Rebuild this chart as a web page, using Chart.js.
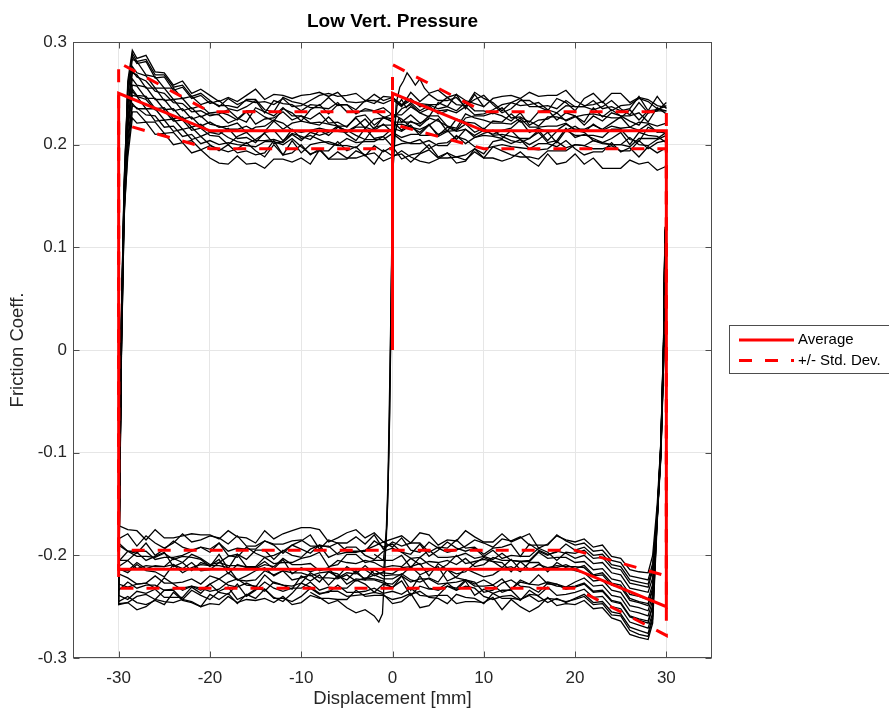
<!DOCTYPE html>
<html>
<head>
<meta charset="utf-8">
<title>Low Vert. Pressure</title>
<script src="https://cdn.jsdelivr.net/npm/chart.js@4.4.1/dist/chart.umd.min.js"></script>
<style>
  html, body { margin: 0; padding: 0; background: #fff; }
  #wrap { width: 889px; height: 711px; }
</style>
</head>
<body>
<div id="wrap"><canvas id="friction" width="889" height="711"></canvas></div>
<script>
const xTicks = [-30, -20, -10, 0, 10, 20, 30];
const yTicks = [-0.3, -0.2, -0.1, 0, 0.1, 0.2, 0.3];

// fitted average loop and +/- one std. dev. (friction coeff.)
const fitX = [0, 0, 10, 30, 30, 20, -30, -30, -20, 0];
const avgY = [0, 0.25, 0.2135, 0.2135, -0.25, -0.2135, -0.2135, 0.25, 0.2135, 0.2135];
const stdHiY = [0, 0.278, 0.232, 0.232, -0.22, -0.195, -0.195, 0.28, 0.232, 0.232];
const stdLoY = [0, 0.22, 0.196, 0.196, -0.278, -0.232, -0.232, 0.221, 0.196, 0.196];

// measured strokes, displacement in mm
const botX = [29.85, 29.7, 29.4, 29, 28.5, 28, 27, 26, 25, 24, 23, 22, 21, 20, 19, 18, 17, 16, 15, 14,
  13, 12, 11, 10, 9, 8, 7, 6, 5, 4, 3, 2, 1, 0, -1, -2, -3, -4, -5, -6, -7, -8, -9, -10, -11, -12,
  -13, -14, -15, -16, -17, -18, -19, -20, -21, -22, -23, -24, -25, -26, -27, -28, -29, -30];
const topX = [-29.85, -29.7, -29.4, -29, -28.5, -28, -27, -26, -25, -24, -23, -22, -21, -20, -19, -18,
  -17, -16, -15, -14, -13, -12, -11, -10, -9, -8, -7, -6, -5, -4, -3, -2, -1, 0, 1, 2, 3, 4, 5, 6, 7,
  8, 9, 10, 11, 12, 13, 14, 15, 16, 17, 18, 19, 20, 21, 22, 23, 24, 25, 26, 27, 28, 29, 30];

// friction coeff. x1000, one row per cycle: return stroke (30 -> -30)
const cycleBottom = [
  [115, 5, -90, -150, -200, -217, -216, -214, -203, -201, -190, -192, -184, -187,
   -185, -181, -189, -193, -179, -183, -187, -179, -187, -187,
   -182, -176, -186, -185, -190, -180, -178, -188, -181, -184,
   -187, -178, -183, -175, -178, -183, -187, -175, -173, -173,
   -176, -179, -184, -176, -188, -183, -182, -176, -184, -180,
   -180, -179, -181, -183, -183, -175, -185, -176, -175, -171],
  [108, -5, -98, -158, -208, -224, -222, -220, -207, -205, -195, -196, -188, -190,
   -186, -180, -190, -190, -190, -182, -186, -184, -192, -188,
   -185, -191, -195, -197, -193, -187, -197, -195, -183, -192,
   -187, -191, -195, -197, -197, -199, -191, -191, -191, -185,
   -186, -189, -189, -186, -191, -191, -181, -189, -183, -181,
   -185, -187, -179, -188, -193, -188, -181, -191, -179, -184],
  [120, 15, -92, -162, -262, -279, -277, -273, -259, -258, -247, -248, -240, -243,
   -245, -243, -242, -245, -239, -243, -242, -242, -237, -247,
   -242, -241, -238, -247, -242, -241, -235, -238, -245, -247,
   -238, -236, -238, -239, -240, -235, -235, -238, -232, -240,
   -245, -242, -242, -233, -242, -238, -247, -237, -243, -238,
   -250, -246, -244, -236, -248, -244, -248, -246, -240, -245],
  [105, -10, -100, -160, -215, -231, -229, -227, -214, -212, -202, -203, -195, -198,
   -197, -205, -197, -193, -201, -201, -200, -203, -195, -201,
   -193, -196, -193, -187, -195, -201, -189, -199, -197, -189,
   -192, -186, -196, -196, -196, -188, -192, -190, -198, -194,
   -190, -196, -200, -202, -198, -192, -202, -200, -188, -197,
   -192, -196, -200, -202, -202, -204, -196, -196, -196, -190],
  [112, 8, -95, -166, -250, -266, -263, -260, -247, -245, -235, -236, -228, -231,
   -233, -228, -226, -229, -228, -226, -233, -236, -229, -230,
   -230, -224, -232, -230, -234, -232, -220, -234, -220, -232,
   -225, -223, -222, -225, -219, -223, -222, -222, -217, -227,
   -230, -229, -226, -235, -230, -229, -223, -226, -233, -235,
   -232, -230, -232, -233, -234, -229, -229, -232, -226, -234],
  [100, -15, -105, -165, -222, -236, -234, -232, -219, -217, -207, -208, -200, -203,
   -198, -196, -200, -196, -205, -206, -205, -198, -204, -201,
   -203, -198, -201, -202, -202, -195, -202, -203, -197, -193,
   -196, -204, -200, -192, -192, -198, -202, -190, -194, -202,
   -200, -195, -204, -195, -195, -204, -199, -201, -207, -209,
   -203, -199, -207, -211, -197, -201, -205, -197, -205, -205],
  [118, 12, -88, -160, -256, -271, -268, -265, -252, -250, -240, -241, -233, -236,
   -238, -239, -231, -239, -238, -243, -234, -234, -237, -233,
   -239, -225, -234, -227, -233, -233, -230, -239, -225, -231,
   -228, -236, -228, -224, -232, -232, -231, -234, -226, -232,
   -232, -235, -232, -226, -234, -240, -228, -238, -236, -228,
   -237, -231, -241, -241, -241, -233, -237, -235, -243, -239],
  [104, -2, -102, -163, -228, -243, -240, -238, -225, -223, -213, -214, -206, -207,
   -202, -202, -203, -197, -206, -206, -205, -205, -202, -209,
   -211, -203, -209, -205, -207, -206, -209, -203, -211, -210,
   -212, -207, -205, -208, -207, -205, -212, -215, -208, -209,
   -209, -203, -211, -209, -213, -211, -199, -213, -199, -211,
   -204, -202, -201, -204, -198, -202, -201, -201, -196, -206],
  [110, 0, -96, -158, -244, -259, -256, -254, -241, -239, -229, -230, -222, -226,
   -231, -228, -228, -219, -228, -224, -233, -223, -229, -224,
   -228, -224, -222, -214, -226, -222, -226, -224, -218, -223,
   -223, -219, -223, -217, -211, -221, -216, -217, -220, -217,
   -217, -215, -219, -215, -224, -225, -224, -217, -223, -220,
   -228, -223, -226, -227, -227, -220, -227, -228, -222, -218],
  [102, -8, -100, -163, -234, -249, -246, -244, -231, -229, -219, -220, -212, -211,
   -211, -210, -212, -214, -214, -206, -216, -207, -206, -202,
   -208, -216, -218, -214, -208, -220, -208, -211, -212, -218,
   -217, -218, -210, -218, -217, -222, -213, -213, -216, -212,
   -218, -204, -213, -206, -212, -212, -209, -218, -204, -210,
   -207, -215, -207, -203, -211, -211, -210, -213, -205, -211],
  [115, 5, -94, -168, -266, -282, -280, -277, -264, -261, -251, -252, -244, -248,
   -247, -249, -241, -250, -255, -250, -243, -253, -241, -246,
   -245, -245, -247, -239, -239, -249, -251, -237, -241, -243,
   -239, -239, -240, -234, -243, -243, -242, -242, -239, -246,
   -248, -240, -246, -242, -244, -243, -246, -240, -248, -247,
   -250, -245, -243, -246, -245, -243, -250, -253, -246, -247],
  [106, -3, -97, -161, -239, -254, -251, -249, -236, -234, -224, -225, -217, -215,
   -212, -207, -216, -207, -207, -216, -211, -213, -219, -221,
   -217, -213, -221, -225, -211, -215, -219, -211, -219, -219,
   -220, -214, -224, -223, -228, -218, -216, -226, -219, -222,
   -224, -215, -220, -212, -215, -220, -224, -212, -210, -210,
   -209, -212, -217, -209, -221, -216, -215, -209, -217, -213],
  [111, 2, -93, -156, -232, -247, -245, -242, -229, -227, -217, -219, -210, -213,
   -209, -212, -212, -209, -214, -214, -204, -212, -206, -204,
   -206, -208, -200, -209, -214, -209, -202, -212, -200, -205,
   -205, -205, -207, -199, -199, -209, -211, -197, -201, -203,
   -207, -207, -208, -202, -211, -211, -210, -210, -207, -214,
   -215, -207, -213, -209, -211, -210, -213, -207, -215, -214],
  [117, 10, -91, -164, -259, -276, -273, -270, -257, -255, -245, -246, -238, -242,
   -246, -242, -246, -240, -234, -244, -239, -240, -243, -240,
   -232, -230, -234, -230, -239, -240, -239, -232, -238, -235,
   -237, -232, -235, -236, -236, -229, -236, -237, -231, -227,
   -237, -245, -241, -233, -233, -239, -243, -231, -235, -243,
   -239, -234, -243, -234, -234, -243, -238, -240, -246, -248],
  [103, -12, -103, -162, -212, -228, -226, -224, -211, -209, -199, -200, -192, -195,
   -189, -197, -199, -195, -189, -201, -189, -192, -193, -199,
   -192, -193, -185, -193, -192, -197, -188, -188, -191, -187,
   -194, -180, -189, -182, -188, -188, -185, -194, -180, -186,
   -190, -198, -190, -186, -194, -194, -193, -196, -188, -194,
   -192, -195, -192, -186, -194, -200, -188, -198, -196, -188],
  [109, -4, -99, -159, -249, -264, -262, -259, -246, -244, -234, -235, -227, -230,
   -231, -230, -227, -236, -231, -230, -224, -227, -234, -236,
   -226, -224, -226, -227, -228, -223, -223, -226, -220, -228,
   -227, -224, -224, -215, -224, -220, -229, -219, -225, -220,
   -233, -229, -227, -219, -231, -227, -231, -229, -223, -228,
   -234, -230, -234, -228, -222, -232, -227, -228, -231, -228]
];

// friction coeff. x1000, one row per cycle: forward stroke (-30 -> 30)
const cycleTop = [
  [-105, 10, 150, 262, 292, 284, 287, 271, 270, 258, 262, 250, 254, 248,
   242, 246, 242, 248, 254, 244, 249, 248, 245, 248,
   249, 251, 247, 251, 242, 241, 242, 249, 243, 246,
   238, 243, 240, 239, 239, 246, 239, 238, 244, 248,
   239, 231, 235, 243, 243, 237, 233, 245, 241, 233,
   245, 250, 241, 250, 250, 241, 246, 244, 238, 236],
  [-95, 25, 160, 258, 286, 279, 281, 265, 266, 253, 256, 245, 248, 240,
   243, 235, 233, 237, 243, 231, 243, 240, 239, 233,
   239, 238, 246, 238, 239, 234, 243, 243, 240, 244,
   237, 251, 242, 249, 243, 243, 246, 237, 251, 245,
   241, 233, 241, 245, 237, 237, 238, 235, 243, 237,
   237, 234, 237, 243, 235, 229, 241, 231, 233, 241],
  [-120, -5, 135, 250, 283, 281, 268, 266, 255, 255, 245, 247, 239, 242,
   238, 238, 236, 244, 244, 234, 232, 246, 242, 240,
   236, 236, 235, 241, 232, 232, 233, 233, 236, 229,
   229, 237, 231, 235, 233, 234, 231, 237, 229, 230,
   234, 239, 241, 238, 239, 241, 234, 231, 238, 237,
   237, 243, 235, 237, 233, 235, 247, 233, 247, 235],
  [-100, 30, 165, 250, 276, 270, 267, 255, 255, 244, 245, 235, 238, 230,
   229, 221, 225, 233, 233, 227, 223, 235, 231, 223,
   234, 239, 230, 239, 239, 230, 235, 233, 227, 225,
   235, 239, 231, 227, 241, 237, 233, 241, 233, 233,
   230, 236, 226, 227, 222, 232, 234, 224, 231, 228,
   219, 228, 223, 231, 228, 223, 219, 231, 233, 233],
  [-115, 0, 145, 238, 270, 268, 255, 255, 243, 244, 233, 236, 227, 231,
   232, 229, 224, 232, 220, 225, 226, 232, 224, 228,
   221, 222, 220, 218, 218, 226, 216, 225, 226, 230,
   225, 217, 215, 219, 225, 213, 225, 222, 221, 215,
   223, 222, 230, 222, 223, 218, 227, 227, 224, 228,
   222, 236, 227, 234, 228, 228, 231, 222, 236, 230],
  [-105, 20, 150, 232, 264, 258, 256, 244, 244, 233, 235, 225, 228, 220,
   218, 215, 215, 218, 213, 213, 223, 215, 221, 223,
   221, 219, 227, 218, 213, 218, 225, 215, 227, 222,
   222, 222, 220, 228, 228, 218, 216, 230, 226, 224,
   221, 221, 220, 226, 217, 217, 218, 218, 221, 214,
   212, 220, 214, 218, 216, 217, 214, 220, 212, 213],
  [-125, -10, 130, 222, 258, 257, 245, 245, 234, 235, 225, 227, 218, 222,
   217, 218, 221, 212, 217, 218, 224, 221, 214, 212,
   214, 216, 214, 213, 212, 217, 217, 214, 220, 212,
   207, 210, 210, 219, 210, 214, 205, 215, 209, 214,
   210, 214, 216, 224, 212, 216, 212, 214, 220, 215,
   215, 219, 215, 221, 227, 217, 222, 221, 218, 221],
  [-98, 35, 158, 226, 254, 248, 247, 235, 236, 225, 227, 217, 220, 212,
   210, 216, 206, 207, 202, 212, 214, 204, 211, 208,
   205, 214, 209, 217, 214, 209, 205, 217, 219, 219,
   220, 217, 212, 220, 208, 213, 214, 220, 212, 216,
   209, 210, 208, 206, 206, 214, 204, 213, 214, 218,
   212, 204, 202, 206, 212, 200, 212, 209, 208, 202],
  [-110, 5, 140, 215, 248, 247, 235, 235, 224, 225, 215, 217, 208, 212,
   213, 207, 203, 201, 205, 211, 201, 203, 215, 206,
   209, 205, 201, 199, 199, 197, 205, 205, 205, 211,
   204, 201, 201, 204, 199, 199, 209, 201, 207, 209,
   208, 206, 214, 205, 200, 205, 212, 202, 214, 209,
   209, 209, 207, 215, 215, 205, 203, 217, 213, 211],
  [-100, 25, 150, 208, 240, 235, 235, 223, 224, 213, 215, 205, 208, 200,
   194, 200, 192, 194, 190, 192, 204, 190, 204, 192,
   200, 202, 203, 200, 206, 202, 203, 203, 208, 198,
   201, 202, 205, 196, 201, 202, 208, 205, 198, 196,
   198, 200, 198, 197, 196, 201, 201, 198, 204, 196,
   190, 193, 193, 202, 193, 197, 188, 198, 192, 197],
  [-118, -5, 128, 195, 232, 232, 222, 222, 211, 212, 202, 204, 195, 199,
   196, 193, 196, 202, 194, 188, 200, 190, 192, 200,
   190, 196, 186, 186, 186, 194, 190, 192, 184, 188,
   194, 188, 184, 182, 186, 192, 182, 184, 196, 187,
   198, 194, 190, 188, 188, 186, 194, 194, 194, 200,
   199, 196, 196, 199, 194, 194, 204, 196, 202, 204],
  [-108, 15, 135, 188, 226, 221, 222, 210, 211, 200, 202, 192, 195, 187,
   182, 181, 189, 181, 182, 177, 186, 186, 183, 187,
   181, 195, 186, 193, 187, 187, 190, 181, 195, 189,
   191, 183, 191, 195, 187, 187, 188, 185, 193, 187,
   187, 184, 187, 193, 185, 179, 191, 181, 183, 191,
   181, 187, 177, 177, 177, 185, 181, 183, 175, 179],
  [-102, 18, 155, 256, 289, 281, 283, 268, 268, 256, 258, 247, 250, 243,
   237, 245, 239, 243, 241, 242, 239, 245, 237, 238,
   243, 248, 250, 247, 248, 250, 243, 240, 247, 246,
   239, 245, 237, 239, 235, 237, 249, 235, 249, 237,
   245, 247, 248, 245, 251, 247, 248, 248, 253, 243,
   238, 239, 242, 233, 238, 239, 245, 242, 235, 233],
  [-112, 8, 148, 240, 272, 266, 262, 252, 250, 241, 240, 232, 233, 228,
   230, 234, 226, 222, 236, 232, 228, 236, 228, 228,
   225, 231, 221, 222, 217, 227, 229, 219, 226, 223,
   214, 223, 218, 226, 223, 218, 214, 226, 228, 228,
   231, 228, 223, 231, 219, 224, 225, 231, 223, 227,
   229, 230, 228, 226, 226, 234, 224, 233, 234, 238],
  [-103, 28, 152, 220, 252, 247, 244, 234, 233, 223, 224, 214, 216, 209,
   208, 200, 208, 212, 204, 204, 205, 202, 210, 204,
   212, 209, 212, 218, 210, 204, 216, 206, 208, 216,
   213, 219, 209, 209, 209, 217, 213, 215, 207, 211,
   214, 208, 204, 202, 206, 212, 202, 204, 216, 207,
   210, 206, 202, 200, 200, 198, 206, 206, 206, 212],
  [-112, 12, 142, 202, 238, 236, 229, 228, 217, 218, 208, 210, 201, 204,
   200, 202, 200, 199, 198, 203, 203, 200, 206, 198,
   191, 194, 194, 203, 194, 198, 189, 199, 193, 198,
   186, 190, 192, 200, 188, 192, 188, 190, 196, 191,
   203, 205, 201, 205, 196, 195, 196, 203, 197, 200,
   199, 204, 201, 200, 200, 207, 200, 199, 205, 209]
];

// start-up strokes through x = 0 (x in mm, friction coeff. x1000)
const startX = [
  [-9, -8, -7, -6, -5, -4, -3, -2, -1.5, -1.1, -0.8, -0.5, -0.3, -0.1, 0.1,
   0.4, 0.8, 1.2, 1.6, 2, 2.5, 3, 3.5, 4, 5, 6, 7, 8, 9, 10],
  [-3, -2, -1, -0.7, -0.5, -0.3, -0.15, 0, 0.2, 0.5, 1, 1.5, 2, 3, 4, 5, 6],
  [-2, -1, -0.6, -0.4, -0.25, -0.1, 0.05, 0.3, 0.7, 1, 2, 3, 4]
];
const startY = [
  [-236, -241, -247, -244, -251, -256, -253, -259, -265, -257, -205, -130, -30, 80, 190,
   240, 256, 262, 270, 265, 258, 264, 255, 250, 253, 246, 249, 243, 240, 237],
  [-214, -220, -216, -190, -140, -60, 40, 150, 215, 238, 244, 236, 241, 233, 238, 230, 233],
  [-199, -205, -170, -100, -20, 90, 175, 212, 226, 222, 229, 221, 225]
];

const FONT = '"Liberation Sans", Arial, Helvetica, sans-serif';
const AXIS_COLOR = '#262626';
const RED = 'rgb(255,0,0)';

function pts(xs, ys, scale) {
  return xs.map((x, i) => ({ x: x, y: ys[i] / scale }));
}

function line(label, data, color, width, dash, order) {
  return {
    label: label,
    data: data,
    showLine: true,
    borderColor: color,
    borderWidth: width,
    borderDash: dash,
    pointRadius: 0,
    fill: false,
    order: order
  };
}

const datasets = [
  line('Average', pts(fitX, avgY, 1), RED, 3, [], 0),
  line('+/- Std. Dev.', pts(fitX, stdHiY, 1), RED, 3, [13, 13], 0),
  line('', pts(fitX, stdLoY, 1), RED, 3, [13, 13], 0)
];
cycleTop.forEach((top, i) => {
  datasets.push(line('', pts(botX.concat(topX), cycleBottom[i].concat(top), 1000), '#000', 1.3, [], 1));
});
startX.forEach((xs, i) => {
  datasets.push(line('', pts(xs, startY[i], 1000), '#000', 1.3, [], 1));
});

// MATLAB style box with inward ticks on all four sides
const axesBox = {
  id: 'axesBox',
  afterDatasetsDraw(chart) {
    const { ctx, chartArea: a, scales } = chart;
    const l = Math.round(a.left) + 0.5, r = Math.round(a.right) - 0.5;
    const t = Math.round(a.top) + 0.5, b = Math.round(a.bottom) - 0.5;
    ctx.save();
    ctx.strokeStyle = '#4d4d4d';
    ctx.lineWidth = 1;
    ctx.strokeRect(l, t, r - l, b - t);
    ctx.beginPath();
    xTicks.forEach(v => {
      const p = Math.round(scales.x.getPixelForValue(v)) + 0.5;
      ctx.moveTo(p, b); ctx.lineTo(p, b - 6);
      ctx.moveTo(p, t); ctx.lineTo(p, t + 6);
    });
    yTicks.forEach(v => {
      const p = Math.round(scales.y.getPixelForValue(v)) + 0.5;
      ctx.moveTo(l, p); ctx.lineTo(l + 6, p);
      ctx.moveTo(r, p); ctx.lineTo(r - 6, p);
    });
    ctx.stroke();
    ctx.restore();
  }
};

// legend box to the right of the axes
const sideLegend = {
  id: 'sideLegend',
  afterDraw(chart) {
    const { ctx, chartArea: a } = chart;
    const ds = chart.data.datasets;
    const x0 = Math.round(a.right) + 17;
    const y0 = Math.round((a.top + a.bottom) / 2) - 25;
    ctx.save();
    ctx.fillStyle = '#fff';
    ctx.fillRect(x0, y0, 200, 48);
    ctx.strokeStyle = '#4d4d4d';
    ctx.lineWidth = 1;
    ctx.strokeRect(x0 + 0.5, y0 + 0.5, 200, 48);
    ctx.font = '15px ' + FONT;
    ctx.textBaseline = 'middle';
    [[ds[0], y0 + 15], [ds[1], y0 + 35.5]].forEach(([d, y]) => {
      ctx.strokeStyle = d.borderColor;
      ctx.lineWidth = d.borderWidth;
      ctx.setLineDash(d.borderDash);
      ctx.beginPath();
      ctx.moveTo(x0 + 10, y);
      ctx.lineTo(x0 + 65, y);
      ctx.stroke();
      ctx.setLineDash([]);
      ctx.fillStyle = '#000';
      ctx.fillText(d.label, x0 + 69, y);
    });
    ctx.restore();
  }
};

new Chart(document.getElementById('friction'), {
  type: 'scatter',
  data: { datasets: datasets },
  plugins: [axesBox, sideLegend],
  options: {
    responsive: false,
    devicePixelRatio: 1,
    animation: false,
    events: [],
    layout: { padding: { left: 0, right: 177, top: 0, bottom: 0 } },
    plugins: {
      legend: { display: false },
      tooltip: { enabled: false },
      title: {
        display: true,
        text: 'Low Vert. Pressure',
        fullSize: false,
        color: '#000',
        font: { family: FONT, size: 19, weight: 'bold' },
        padding: { top: 10.5, bottom: 8.7 }
      }
    },
    scales: {
      x: {
        type: 'linear',
        min: -35,
        max: 35,
        afterBuildTicks: s => { s.ticks = xTicks.map(v => ({ value: v })); },
        afterFit: s => { s.height = 53; },
        ticks: { color: AXIS_COLOR, font: { family: FONT, size: 17 }, padding: 10 },
        grid: { color: '#e6e6e6', drawTicks: false },
        border: { display: false },
        title: {
          display: true,
          text: 'Displacement [mm]',
          color: AXIS_COLOR,
          font: { family: FONT, size: 18.5 },
          padding: { top: 4, bottom: 1 }
        }
      },
      y: {
        type: 'linear',
        min: -0.3,
        max: 0.3,
        afterBuildTicks: s => { s.ticks = yTicks.map(v => ({ value: v })); },
        afterFit: s => { s.width = 73; },
        ticks: {
          color: AXIS_COLOR,
          font: { family: FONT, size: 17 },
          padding: 6,
          callback: v => String(Math.round(v * 10) / 10)
        },
        grid: { color: '#e6e6e6', drawTicks: false },
        border: { display: false },
        title: {
          display: true,
          text: 'Friction Coeff.',
          color: AXIS_COLOR,
          font: { family: FONT, size: 18.5 },
          padding: { top: 7 }
        }
      }
    }
  }
});
</script>
</body>
</html>
